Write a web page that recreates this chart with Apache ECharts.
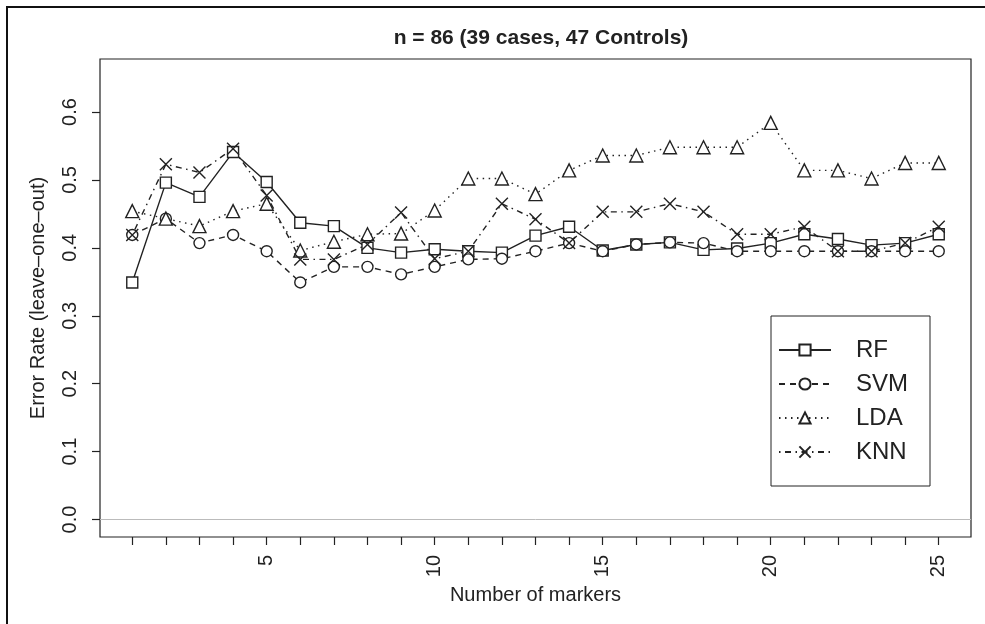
<!DOCTYPE html>
<html>
<head>
<meta charset="utf-8">
<script src="https://cdn.jsdelivr.net/npm/echarts@6/dist/echarts.min.js"></script>
<style>
  html, body { margin: 0; padding: 0; background: #fff; }
  #chart { width: 985px; height: 624px; }
</style>
</head>
<body>
<div id="chart"></div>
<script>
// number of markers on the x axis
const markers = [1, 2, 3, 4, 5, 6, 7, 8, 9, 10, 11, 12, 13, 14, 15, 16, 17, 18, 19, 20, 21, 22, 23, 24, 25];
const xLabels = [5, 10, 15, 20, 25];
const yTicks = [0, 0.1, 0.2, 0.3, 0.4, 0.5, 0.6];

// error rates
const rf  = [0.349, 0.496, 0.475, 0.541, 0.497, 0.437, 0.432, 0.400, 0.393, 0.398, 0.395, 0.393, 0.418, 0.431, 0.396, 0.405, 0.408, 0.397, 0.399, 0.407, 0.420, 0.413, 0.404, 0.407, 0.420];
const svm = [0.419, 0.443, 0.407, 0.419, 0.395, 0.349, 0.372, 0.372, 0.361, 0.372, 0.383, 0.384, 0.395, 0.407, 0.395, 0.405, 0.408, 0.407, 0.395, 0.395, 0.395, 0.395, 0.395, 0.395, 0.395];
const lda = [0.454, 0.443, 0.432, 0.454, 0.465, 0.396, 0.409, 0.420, 0.421, 0.455, 0.502, 0.502, 0.479, 0.514, 0.536, 0.536, 0.548, 0.548, 0.548, 0.584, 0.514, 0.514, 0.502, 0.525, 0.525];
const knn = [0.419, 0.523, 0.511, 0.546, 0.477, 0.383, 0.383, 0.405, 0.452, 0.384, 0.395, 0.465, 0.442, 0.407, 0.453, 0.453, 0.465, 0.453, 0.420, 0.420, 0.431, 0.395, 0.395, 0.407, 0.431];

const ink = '#222';
const font = 'Liberation Sans, Arial, Helvetica, sans-serif';

function pairs(vals) {
  return markers.map((m, i) => [m, vals[i]]);
}

function makeSeries(name, vals, symbol, size, dash, fill) {
  return {
    name: name,
    type: 'line',
    data: pairs(vals),
    symbol: symbol,
    symbolSize: size,
    showAllSymbol: true,
    lineStyle: { color: ink, width: 1.4, type: dash },
    itemStyle: { color: fill, borderColor: ink, borderWidth: 1.4 },
    emphasis: { disabled: true },
    animation: false
  };
}

const series = [
  makeSeries('RF', rf, 'rect', 11, 'solid', '#fff'),
  makeSeries('SVM', svm, 'circle', 11, [6, 5], '#fff'),
  makeSeries('LDA', lda, 'triangle', 13, [1.5, 4.5], '#fff'),
  makeSeries('KNN', knn, 'path://M0,0L10,10M10,0L0,10', 12, [1.5, 4.5, 6, 4.5], 'none')
];

// grey reference line at 0
series[0].markLine = {
  silent: true,
  symbol: 'none',
  label: { show: false },
  lineStyle: { color: '#bbb', type: 'solid', width: 1 },
  data: [{ yAxis: 0 }],
  animation: false
};

const chart = echarts.init(document.getElementById('chart'));
chart.setOption({
  backgroundColor: '#fff',
  animation: false,
  title: {
    text: 'n = 86 (39 cases, 47 Controls)',
    left: 536,
    top: 23,
    textAlign: 'center',
    textStyle: { fontFamily: font, fontSize: 21, fontWeight: 'bold', color: ink }
  },
  grid: {
    left: 100, top: 59, right: 14, bottom: 87,
    show: true, borderColor: ink, borderWidth: 1.2, backgroundColor: 'transparent'
  },
  legend: {
    orient: 'vertical',
    left: 771,
    top: 316,
    padding: [22, 22, 22, 7],
    itemGap: 10,
    itemWidth: 52,
    itemHeight: 14,
    borderColor: ink,
    borderWidth: 1,
    backgroundColor: '#fff',
    selectedMode: false,
    textStyle: { fontFamily: font, fontSize: 24, color: ink, lineHeight: 24, padding: [0, 0, 0, 20] },
    data: ['RF', 'SVM', 'LDA', 'KNN']
  },
  xAxis: {
    type: 'value',
    min: 0.04,
    max: 25.96,
    name: 'Number of markers',
    nameLocation: 'middle',
    nameGap: 46,
    nameTextStyle: { fontFamily: font, fontSize: 20, color: ink },
    axisLine: { show: false, onZero: false },
    axisTick: { show: true, length: 8, lineStyle: { color: ink, width: 1.2 }, customValues: markers },
    axisLabel: {
      rotate: 90, margin: 18, fontFamily: font, fontSize: 20, color: ink,
      customValues: xLabels
    },
    splitLine: { show: false }
  },
  yAxis: {
    type: 'value',
    min: -0.0257,
    max: 0.678,
    name: 'Error Rate (leave\u2013one\u2013out)',
    nameLocation: 'middle',
    nameGap: 52,
    nameRotate: 90,
    nameTextStyle: { fontFamily: font, fontSize: 20, color: ink },
    axisLine: { show: false, onZero: false },
    axisTick: { show: true, length: 8, lineStyle: { color: ink, width: 1.2 }, customValues: yTicks },
    axisLabel: {
      rotate: 90, margin: 20, fontFamily: font, fontSize: 20, color: ink,
      customValues: yTicks,
      formatter: v => v.toFixed(1)
    },
    splitLine: { show: false }
  },
  graphic: [{
    type: 'rect',
    silent: true,
    shape: { x: 7, y: 7, width: 1100, height: 800 },
    style: { fill: 'none', stroke: '#111', lineWidth: 2 }
  }],
  series: series
});
</script>
</body>
</html>
